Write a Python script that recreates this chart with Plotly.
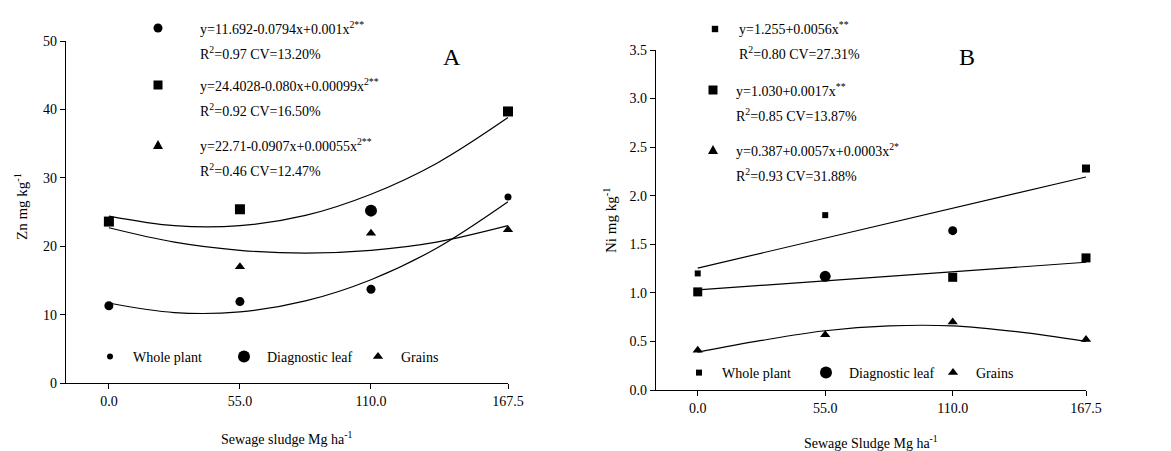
import plotly.graph_objects as go

# ---------------- data ----------------
doses = [0, 55, 110, 167.5]
dose_labels = ["0.0", "55.0", "110.0", "167.5"]
fit_x = [0, 27.5, 55, 82.5, 110, 137.5, 167.5]
lin_x = [0, 167.5]

# Panel A - Zn (mg kg-1)
zn_whole = [11.3, 11.9, 13.7, 27.2]
zn_leaf = [23.6, 25.4, 25.2, 39.7]
zn_grains = [23.5, 17.0, 21.9, 22.4]
zn_whole_fit = [11.7, 10.3, 10.4, 12.0, 15.1, 19.7, 26.5]
zn_leaf_fit = [24.4, 23.0, 23.0, 24.5, 27.6, 32.1, 38.8]
zn_grains_fit = [22.7, 20.6, 19.4, 19.0, 19.4, 20.6, 23.0]

# Panel B - Ni (mg kg-1)
ni_whole = [1.20, 1.80, 1.64, 2.28]
ni_leaf = [1.01, 1.17, 1.16, 1.36]
ni_grains = [0.41, 0.57, 0.70, 0.52]
ni_whole_fit = [1.255, 2.193]
ni_leaf_fit = [1.03, 1.315]
ni_grains_fit = [0.39, 0.51, 0.61, 0.66, 0.66, 0.60, 0.50]

series_names = ["Whole plant", "Diagnostic leaf", "Grains"]

eq_A = [
    ("y=11.692-0.0794x+0.001x<sup>2**</sup>", "R<sup>2</sup>=0.97 CV=13.20%"),
    ("y=24.4028-0.080x+0.00099x<sup>2**</sup>", "R<sup>2</sup>=0.92 CV=16.50%"),
    ("y=22.71-0.0907x+0.00055x<sup>2**</sup>", "R<sup>2</sup>=0.46 CV=12.47%"),
]
eq_B = [
    ("y=1.255+0.0056x<sup>**</sup>", "R<sup>2</sup>=0.80 CV=27.31%"),
    ("y=1.030+0.0017x<sup>**</sup>", "R<sup>2</sup>=0.85 CV=13.87%"),
    ("y=0.387+0.0057x+0.0003x<sup>2*</sup>", "R<sup>2</sup>=0.93 CV=31.88%"),
]

# ---------------- layout helpers ----------------
W, H = 1171, 451
FONT = "Liberation Serif, Times New Roman, serif"


def px(x):
    return x / W


def py(y):
    return 1 - y / H


fig = go.Figure()


def pts(x, y, xa, ya, symbol, size):
    fig.add_trace(go.Scatter(
        x=x, y=y, mode="markers", xaxis=xa, yaxis=ya, showlegend=False,
        cliponaxis=False,
        marker=dict(color="black", symbol=symbol, size=size, opacity=1,
                    line=dict(width=0)),
    ))


def curve(x, y, xa, ya, shape="spline"):
    fig.add_trace(go.Scatter(
        x=x, y=y, mode="lines", xaxis=xa, yaxis=ya, showlegend=False,
        cliponaxis=False, line=dict(color="black", width=1.2, shape=shape),
    ))


# Panel A
curve(fit_x, zn_whole_fit, "x", "y")
curve(fit_x, zn_leaf_fit, "x", "y")
curve(fit_x, zn_grains_fit, "x", "y")
pts(doses, zn_grains, "x", "y", "triangle-up", 9)
pts(doses, zn_whole, "x", "y", "circle", [9, 9, 9, 7])
pts(doses, zn_leaf, "x", "y", ["square", "square", "circle", "square"], [10, 10, 12, 10])

# Panel B
curve(lin_x, ni_whole_fit, "x2", "y2", shape="linear")
curve(lin_x, ni_leaf_fit, "x2", "y2", shape="linear")
curve(fit_x, ni_grains_fit, "x2", "y2")
pts(doses, ni_whole, "x2", "y2", ["square", "square", "circle", "square"], [6, 6, 9, 8])
pts(doses, ni_leaf, "x2", "y2", ["square", "circle", "square", "square"], [9, 11, 9, 9])
pts(doses, ni_grains, "x2", "y2", "triangle-up", 9)

# legend-only entries (bottom legends)
leg_A = [("circle", 6), ("circle", 12), ("triangle-up", 9)]
leg_B = [("square", 6), ("circle", 12), ("triangle-up", 9)]
for (sym, sz), nm in zip(leg_A, series_names):
    fig.add_trace(go.Scatter(x=[None], y=[None], mode="markers", name=nm,
                             xaxis="x", yaxis="y", legend="legend",
                             marker=dict(color="black", symbol=sym, size=sz, opacity=1)))
for (sym, sz), nm in zip(leg_B, series_names):
    fig.add_trace(go.Scatter(x=[None], y=[None], mode="markers", name=nm,
                             xaxis="x2", yaxis="y2", legend="legend2",
                             marker=dict(color="black", symbol=sym, size=sz, opacity=1)))

axis_common = dict(
    showline=True, linecolor="black", linewidth=1.3, ticks="outside",
    ticklen=5, tickwidth=1.2, tickcolor="black", showgrid=False, zeroline=False,
    tickfont=dict(family=FONT, size=14, color="black"), fixedrange=True,
    automargin=False,
)

fig.update_layout(
    width=W, height=H, margin=dict(l=0, r=0, t=0, b=0, pad=0, autoexpand=False),
    paper_bgcolor="white", plot_bgcolor="white",
    font=dict(family=FONT, size=14, color="black"),
    xaxis=dict(domain=[px(66), px(508)], range=[-18, 167.5], anchor="y",
               tickvals=doses, ticktext=dose_labels, **axis_common),
    yaxis=dict(domain=[py(383), py(41)], range=[0, 50], dtick=10, anchor="x",
               **axis_common),
    xaxis2=dict(domain=[px(656), px(1086)], range=[-18, 167.5], anchor="y2",
                tickvals=doses, ticktext=dose_labels, **axis_common),
    yaxis2=dict(domain=[py(390), py(50)], range=[0, 3.5], dtick=0.5,
                tickformat=".1f", anchor="x2", **axis_common),
    legend=dict(orientation="h", x=px(87), y=py(357), xanchor="left",
                yanchor="middle", bgcolor="rgba(0,0,0,0)", entrywidth=83,
                itemwidth=36,
                font=dict(family=FONT, size=14, color="black"),
                itemclick=False, itemdoubleclick=False),
    legend2=dict(orientation="h", x=px(676), y=py(373), xanchor="left",
                 yanchor="middle", bgcolor="rgba(0,0,0,0)", entrywidth=76,
                 itemwidth=36,
                 font=dict(family=FONT, size=14, color="black"),
                 itemclick=False, itemdoubleclick=False),
)

ann = []


def text(x, y, s, size=14, xanchor="left", angle=0):
    ann.append(dict(x=px(x), y=py(y), xref="paper", yref="paper", text=s,
                    showarrow=False, xanchor=xanchor, yanchor="middle",
                    textangle=angle, font=dict(family=FONT, size=size, color="black")))


# equations panel A
for (l1, l2), yy in zip(eq_A, [28, 85, 145]):
    text(198, yy, l1)
    text(198, yy + 25, l2)
# equations panel B
for (l1, l2), yy, xx in zip(eq_B, [28, 90, 150], [737, 734, 734]):
    text(xx, yy, l1)
    text(xx, yy + 25, l2)

text(452, 57, "A", size=24, xanchor="center")
text(967, 57, "B", size=24, xanchor="center")

text(287, 438, "Sewage sludge Mg ha<sup>-1</sup>", size=14, xanchor="center")
text(871, 442, "Sewage Sludge Mg ha<sup>-1</sup>", size=14, xanchor="center")
text(21, 207, "Zn mg kg<sup>-1</sup>", size=15, xanchor="center", angle=-90)
text(610, 221, "Ni mg kg<sup>-1</sup>", size=15, xanchor="center", angle=-90)
fig.update_layout(annotations=ann)

# equation key symbols
shapes = []


def circle(cx, cy, r):
    shapes.append(dict(type="circle", xref="paper", yref="paper",
                       x0=px(cx - r), x1=px(cx + r), y0=py(cy + r), y1=py(cy - r),
                       fillcolor="black", line=dict(width=0)))


def square(cx, cy, r):
    shapes.append(dict(type="rect", xref="paper", yref="paper",
                       x0=px(cx - r), x1=px(cx + r), y0=py(cy + r), y1=py(cy - r),
                       fillcolor="black", line=dict(width=0)))


def tri(cx, cy, r):
    p = f"M {px(cx - r)} {py(cy + r * 0.8)} L {px(cx + r)} {py(cy + r * 0.8)} L {px(cx)} {py(cy - r)} Z"
    shapes.append(dict(type="path", xref="paper", yref="paper", path=p,
                       fillcolor="black", line=dict(width=0)))


circle(158, 28, 4.5)
square(158, 85, 4.5)
tri(158, 145, 5)
square(715, 29, 3.2)
square(713, 90, 4.5)
tri(713, 150, 5)
fig.update_layout(shapes=shapes)

fig.write_html(
    "out.html",
    config={"displayModeBar": False, "staticPlot": False},
    post_script="document.body.style.margin='0';document.body.style.padding='0';"
                "document.documentElement.style.overflow='hidden';",
)
